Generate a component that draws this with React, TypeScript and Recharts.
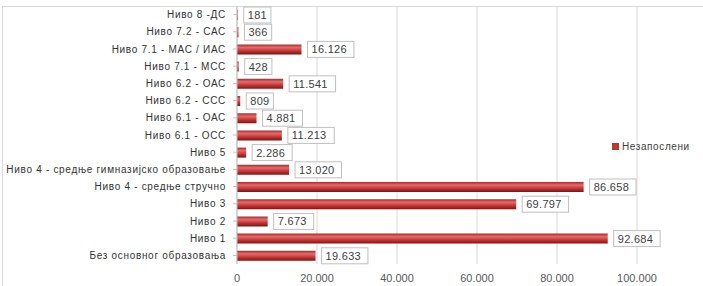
import { BarChart, Bar, XAxis, YAxis, CartesianGrid, LabelList } from 'recharts';

const levels = [
  'Ниво 8 -ДС',
  'Ниво 7.2 - САС',
  'Ниво 7.1 - МАС / ИАС',
  'Ниво 7.1 - МСС',
  'Ниво 6.2 - ОАС',
  'Ниво 6.2 - ССС',
  'Ниво 6.1 - ОАС',
  'Ниво 6.1 - ОСС',
  'Ниво 5',
  'Ниво 4 - средње гимназијско образовање',
  'Ниво 4 - средње стручно',
  'Ниво 3',
  'Ниво 2',
  'Ниво 1',
  'Без основног образовања',
];

const unemployed = [181, 366, 16126, 428, 11541, 809, 4881, 11213, 2286, 13020, 86658, 69797, 7673, 92684, 19633];

const xTicks = [0, 20000, 40000, 60000, 80000, 100000];

const data = levels.map((level, i) => ({ level, value: unemployed[i] }));

const fmt = (v: number) => v.toLocaleString('de-DE');

const FONT = '"Liberation Sans", Arial, sans-serif';

function BoxLabel(props: any) {
  const { x, y, width, height, value } = props;
  const txt = fmt(Number(value));
  const w = txt.length * 6.4 + 8;
  const bx = x + width + 6;
  const cy = y + height / 2;
  return (
    <g>
      <rect x={bx} y={cy - 8} width={w} height={16} fill="#fff" stroke="#bfbfbf" strokeWidth={1} />
      <text x={bx + 4} y={cy + 4} fontSize={11} fill="#404040" fontFamily={FONT} letterSpacing={0.3}>
        {txt}
      </text>
    </g>
  );
}

function LevelTick(props: any) {
  const { x, y, payload } = props;
  return (
    <text x={x - 5} y={y + 3.5} textAnchor="end" fontSize={10} fill="#333" fontFamily={FONT} letterSpacing={0.7}>
      {payload.value}
    </text>
  );
}

export default function App() {
  return (
    <div style={{ position: 'absolute', left: 0, top: 0, width: 703, height: 286, background: '#fff' }}>
      <div
        style={{
          position: 'absolute',
          left: 2,
          top: 6,
          width: 701,
          height: 280,
          borderTop: '1px solid #d9d9d9',
          borderLeft: '1px solid #d9d9d9',
        }}
      />
      <BarChart
        width={703}
        height={286}
        data={data}
        layout="vertical"
        margin={{ top: 6, right: 66, bottom: 2, left: 5 }}
        barCategoryGap={4}
      >
        <defs>
          <linearGradient id="barGrad" x1="0" y1="0" x2="0" y2="1">
            <stop offset="0" stopColor="#a52a2a" />
            <stop offset="0.3" stopColor="#e56b6b" />
            <stop offset="0.6" stopColor="#cc3b3b" />
            <stop offset="1" stopColor="#7a1414" />
          </linearGradient>
        </defs>
        <CartesianGrid horizontal={false} stroke="#d9d9d9" />
        <XAxis
          type="number"
          domain={[0, 100000]}
          ticks={xTicks}
          tickFormatter={(v: number) => fmt(v)}
          axisLine={false}
          tickLine={false}
          tick={{ fontSize: 11, fill: '#595959', fontFamily: FONT }}
          tickMargin={4}
          height={20}
        />
        <YAxis
          type="category"
          dataKey="level"
          width={232}
          axisLine={{ stroke: '#bfbfbf' }}
          tickLine={{ stroke: '#bfbfbf' }}
          tickSize={4}
          interval={0}
          tick={<LevelTick />}
        />
        <Bar dataKey="value" name="Незапослени" fill="url(#barGrad)" barSize={10} isAnimationActive={false}>
          <LabelList dataKey="value" content={<BoxLabel />} />
        </Bar>
      </BarChart>
      <div
        style={{
          position: 'absolute',
          left: 612,
          top: 141,
          display: 'flex',
          alignItems: 'center',
          fontFamily: FONT,
          fontSize: 10,
          color: '#404040',
          letterSpacing: 0.6,
        }}
      >
        <span style={{ display: 'inline-block', width: 7, height: 7, background: '#c0392b', marginRight: 3 }} />
        Незапослени
      </div>
    </div>
  );
}
